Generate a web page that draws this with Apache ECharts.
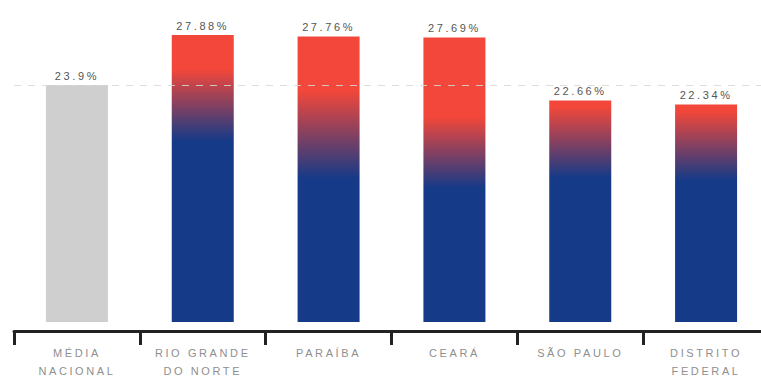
<!DOCTYPE html>
<html>
<head>
<meta charset="utf-8">
<script src="https://cdn.jsdelivr.net/npm/echarts@6/dist/echarts.min.js"></script>
<style>
  html, body { margin: 0; padding: 0; background: #fff; }
  #chart { width: 761px; height: 376px; }
  /* airy, widely tracked lettering for every label */
  #chart svg text { letter-spacing: 2.6px; }
</style>
</head>
<body>
<div id="chart"></div>
<script>
// Taxa por unidade da federação, comparada à média nacional
const categories = ['MÉDIA\nNACIONAL', 'RIO GRANDE\nDO NORTE', 'PARAÍBA', 'CEARÁ', 'SÃO PAULO', 'DISTRITO\nFEDERAL'];
const values = [23.9, 27.88, 27.76, 27.69, 22.66, 22.34];
const labels = ['23.9%', '27.88%', '27.76%', '27.69%', '22.66%', '22.34%'];
const nationalAverage = 23.9;

// where each bar's red top gives way to blue (fractions of bar height from the top)
const blendStops = [null, [0.12, 0.37], [0.19, 0.50], [0.28, 0.53], [0.03, 0.35], [0.03, 0.35]];

const RED = '#f2473a';
const BLUE = '#143a88';

function barColor(i) {
  const s = blendStops[i];
  if (!s) return '#cfcfcf';
  return new echarts.graphic.LinearGradient(0, 0, 0, 1, [
    { offset: 0, color: RED },
    { offset: s[0], color: RED },
    { offset: s[1], color: BLUE },
    { offset: 1, color: BLUE }
  ]);
}

const chart = echarts.init(document.getElementById('chart'), null, { renderer: 'svg' });
chart.setOption({
  animation: false,
  grid: { left: 14, right: -8, top: 0, bottom: 54, containLabel: false, outerBoundsMode: 'none' },
  xAxis: {
    type: 'category',
    data: categories,
    offset: 9,
    axisLine: { onZero: false, lineStyle: { color: '#222', width: 3 } },
    axisTick: { show: true, length: 14, lineStyle: { color: '#222', width: 3 } },
    axisLabel: {
      color: '#8f8f8f',
      fontFamily: 'Liberation Sans, Arial, sans-serif',
      fontSize: 11,
      lineHeight: 18,
      margin: 13
    }
  },
  yAxis: {
    type: 'value',
    min: 5,
    max: 30.68,
    show: false
  },
  series: [{
    type: 'bar',
    barWidth: 62,
    data: values.map((v, i) => ({ value: v, itemStyle: { color: barColor(i) } })),
    label: {
      show: true,
      position: 'top',
      distance: 4,
      color: '#555',
      fontFamily: 'Liberation Sans, Arial, sans-serif',
      fontSize: 11,
      formatter: p => labels[p.dataIndex]
    },
    markLine: {
      silent: true,
      symbol: 'none',
      label: { show: false },
      lineStyle: { color: 'rgba(215,215,215,0.85)', type: [7, 7], width: 1 },
      data: [{ yAxis: nationalAverage }]
    }
  }]
});
</script>
</body>
</html>
